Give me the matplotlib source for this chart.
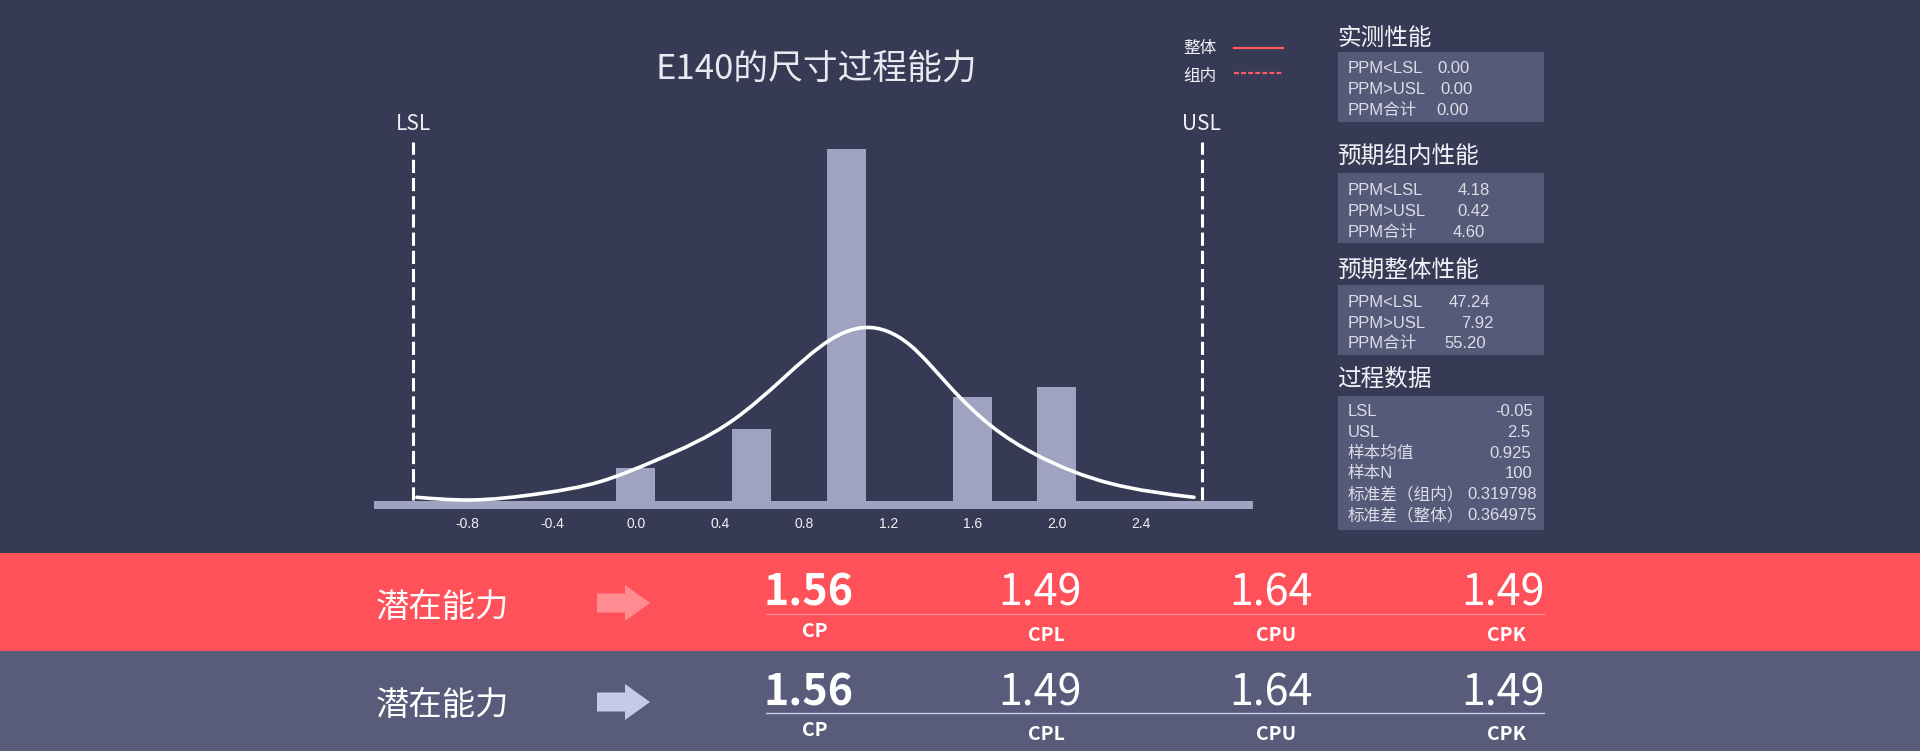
import matplotlib
matplotlib.use("Agg")
import matplotlib.pyplot as plt
from matplotlib.path import Path
from matplotlib.patches import PathPatch, Rectangle, Polygon
import numpy as np

plt.rcParams['font.family'] = ['Noto Sans CJK SC', 'DejaVu Sans']
plt.rcParams['lines.scale_dashes'] = False

# ---------------- data ----------------
title = "E140的尺寸过程能力"
tick_vals = [-0.8, -0.4, 0.0, 0.4, 0.8, 1.2, 1.6, 2.0, 2.4]
tick_labels = ["-0.8", "-0.4", "0.0", "0.4", "0.8", "1.2", "1.6", "2.0", "2.4"]

bar_x = [0.0, 0.55, 1.0, 1.6, 2.0]
bar_counts = [2.85, 6.1, 30.0, 8.9, 9.7]

curve_x = [-1.042, -0.801, -0.447, -0.171, 0.098, 0.463, 0.701, 0.923, 1.089,
           1.303, 1.493, 1.684, 1.906, 2.254, 2.654]
curve_y = [0.315, 0.085, 0.656, 1.645, 3.494, 6.904, 10.458, 13.722, 14.787,
           13.296, 9.742, 6.477, 3.921, 1.509, 0.315]

spec_names = ["LSL", "USL"]
spec_pos = [-1.06, 2.69]

legend_names = ["整体", "组内"]

headers = ["实测性能", "预期组内性能", "预期整体性能", "过程数据"]
ppm_labels = ["PPM<LSL", "PPM>USL", "PPM合计"]
actual_vals = ["0.00", "0.00", "0.00"]
within_vals = ["4.18", "0.42", "4.60"]
overall_vals = ["47.24", "7.92", "55.20"]
proc_labels = ["LSL", "USL", "样本均值", "样本N", "标准差（组内）", "标准差（整体）"]
proc_vals = ["-0.05", "2.5", "0.925", "100", "0.319798", "0.364975"]

row_titles = ["潜在能力", "潜在能力"]
cap_vals = ["1.56", "1.49", "1.64", "1.49"]
cap_names = ["CP", "CPL", "CPU", "CPK"]

# ---------------- style ----------------
BG = '#363a55'
RED = '#ff515a'
GRAYBAND = '#585c7a'
BAR = '#9fa3c1'
BOX = '#555a78'
LEG = '#ff5a62'
TXT = '#f2f2f6'
BOXTXT = '#dcdde8'
LAT = ['Liberation Sans', 'Noto Sans CJK SC']

W, H = 1920, 751
fig = plt.figure(figsize=(W / 100, H / 100), dpi=100, facecolor=BG)

# overlay in pixel coordinates
ov = fig.add_axes([0, 0, 1, 1], zorder=0)
ov.set_xlim(0, W)
ov.set_ylim(H, 0)
ov.axis('off')

# ---------------- chart axes ----------------
ax_l, ax_r, ax_t, ax_b = 374.4, 1252.6, 100, 508.5
zero_px = 501
scale = (501 - 149) / 30.0   # px per count
ax = fig.add_axes([ax_l / W, 1 - ax_b / H, (ax_r - ax_l) / W, (ax_b - ax_t) / H], zorder=2)
ax.patch.set_alpha(0)
ax.set_xlim(-1.244, 2.933)
ax.set_ylim(-(ax_b - zero_px) / scale, (zero_px - ax_t) / scale)
for s in ax.spines.values():
    s.set_visible(False)
ax.set_yticks([])
ax.axhspan(ax.get_ylim()[0], 0, color=BAR, lw=0, zorder=1)
ax.set_xticks(tick_vals)
ax.set_xticklabels(tick_labels, fontsize=10, color=TXT, family=LAT)
ax.tick_params(axis='x', length=0, pad=6)

ax.bar(bar_x, bar_counts, width=0.185, color=BAR, zorder=2)

# smooth curve: natural cubic spline rendered as Bezier segments through the read points
cx = np.asarray(curve_x, float)
cy = np.asarray(curve_y, float)
n = len(cx)
h = np.diff(cx)
A = np.zeros((n, n))
rhs = np.zeros(n)
A[0, 0] = A[-1, -1] = 1.0
for i in range(1, n - 1):
    A[i, i - 1] = h[i - 1]
    A[i, i] = 2 * (h[i - 1] + h[i])
    A[i, i + 1] = h[i]
    rhs[i] = 6 * ((cy[i + 1] - cy[i]) / h[i] - (cy[i] - cy[i - 1]) / h[i - 1])
M = np.linalg.solve(A, rhs)
m = np.zeros(n)
for i in range(n - 1):
    m[i] = (cy[i + 1] - cy[i]) / h[i] - h[i] * (2 * M[i] + M[i + 1]) / 6
m[-1] = (cy[-1] - cy[-2]) / h[-1] + h[-1] * (M[-2] + 2 * M[-1]) / 6
verts = [(cx[0], cy[0])]
codes = [Path.MOVETO]
for i in range(n - 1):
    dx = h[i]
    verts += [(cx[i] + dx / 3, cy[i] + m[i] * dx / 3),
              (cx[i + 1] - dx / 3, cy[i + 1] - m[i + 1] * dx / 3),
              (cx[i + 1], cy[i + 1])]
    codes += [Path.CURVE4] * 3
ax.add_patch(PathPatch(Path(verts, codes), fill=False, edgecolor='white', lw=2.6,
                       capstyle='round', zorder=3))

for name, xp in zip(spec_names, spec_pos):
    ax.plot([xp, xp], [0.1, (501 - 142) / scale], color='white', lw=2.2,
            dashes=(9.5, 3.6), zorder=3, clip_on=False)
    ax.text(xp, (501 - 130) / scale, name, ha='center', va='baseline', fontsize=15,
            color=TXT, clip_on=False)

# ---------------- title & legend ----------------
ov.text(816, 78.5, title, ha='center', va='baseline', fontsize=25, color='#e9e9ef',
        fontweight='light')
ov.text(1183, 53.5, legend_names[0], ha='left', va='baseline', fontsize=12, color=TXT)
ov.text(1183, 81.5, legend_names[1], ha='left', va='baseline', fontsize=12, color=TXT)
ov.plot([1234, 1283], [48.3, 48.3], color=LEG, lw=1.6)
ov.plot([1234, 1283], [73.3, 73.3], color=LEG, lw=1.6, dashes=(3.5, 1.6))

# ---------------- right panel ----------------
BX0, BX1 = 1338, 1544
header_base = [45, 163.5, 277.5, 386]
box_rng = [(52.3, 121.7), (173.3, 242.7), (285, 355), (396, 530)]
row_base0 = [72.7, 195, 306.7, 415.7]
row_step = [21.2, 20.9, 20.8, 20.9]
for k in range(4):
    ov.text(BX0 - 1, header_base[k], headers[k], ha='left', va='baseline',
            fontsize=17, color=TXT)
    y0, y1 = box_rng[k]
    ov.add_patch(Rectangle((BX0, y0), BX1 - BX0, y1 - y0, color=BOX, lw=0))

val_left = [[1437, 1440, 1436], [1458, 1457, 1453], [1449, 1461, 1444]]
groups = [actual_vals, within_vals, overall_vals]
for k in range(3):
    for i in range(3):
        yb = row_base0[k] + i * row_step[k]
        ov.text(1348, yb, ppm_labels[i], ha='left', va='baseline', fontsize=12,
                color=BOXTXT, family=LAT)
        ov.text(val_left[k][i], yb, groups[k][i], ha='left', va='baseline', fontsize=12,
                color=BOXTXT, family=LAT)
proc_right = [1533, 1530, 1531, 1532, 1537, 1537]
for i in range(6):
    yb = row_base0[3] + i * row_step[3]
    ov.text(1348, yb, proc_labels[i], ha='left', va='baseline', fontsize=12,
            color=BOXTXT, family=LAT)
    ov.text(proc_right[i], yb, proc_vals[i], ha='right', va='baseline', fontsize=12,
            color=BOXTXT, family=LAT)

# ---------------- bottom bands ----------------
ov.add_patch(Rectangle((0, 553), W, 98, color=RED, lw=0))
ov.add_patch(Rectangle((0, 651), W, 100, color=GRAYBAND, lw=0))

band_cfg = [
    dict(cy=603, title_base=617, num_base=605, lab_base=640.7, line_y=614,
         arrow='#ff8c91', line='#ff8a90'),
    dict(cy=702, title_base=715, num_base=705, lab_base=740, line_y=713,
         arrow='#c6c9ea', line='#c8cbe8'),
]
num_cx = [808.5 + 231.4 * i for i in range(4)]
lab_cx = [815, 1046, 1276, 1507]
for r, cfg in enumerate(band_cfg):
    ov.text(376, cfg['title_base'], row_titles[r], ha='left', va='baseline',
            fontsize=24, color='white')
    c = cfg['cy']
    ov.add_patch(Polygon([(597, c - 9.5), (625, c - 9.5), (625, c - 18), (650, c),
                          (625, c + 18), (625, c + 9.5), (597, c + 9.5)],
                         closed=True, color=cfg['arrow'], lw=0))
    ov.plot([766, 1544], [cfg['line_y'], cfg['line_y']], color=cfg['line'], lw=1.0)
    for i in range(4):
        ov.text(num_cx[i], cfg['num_base'], cap_vals[i], ha='center', va='baseline',
                fontsize=31, color='white', fontweight='bold' if i == 0 else 'normal')
        lb = cfg['lab_base'] - (4 if i == 0 else 0)
        ov.text(lab_cx[i], lb, cap_names[i], ha='center', va='baseline',
                fontsize=14, color='white', fontweight='bold')

fig.savefig("out.png", dpi=100, facecolor=BG)
